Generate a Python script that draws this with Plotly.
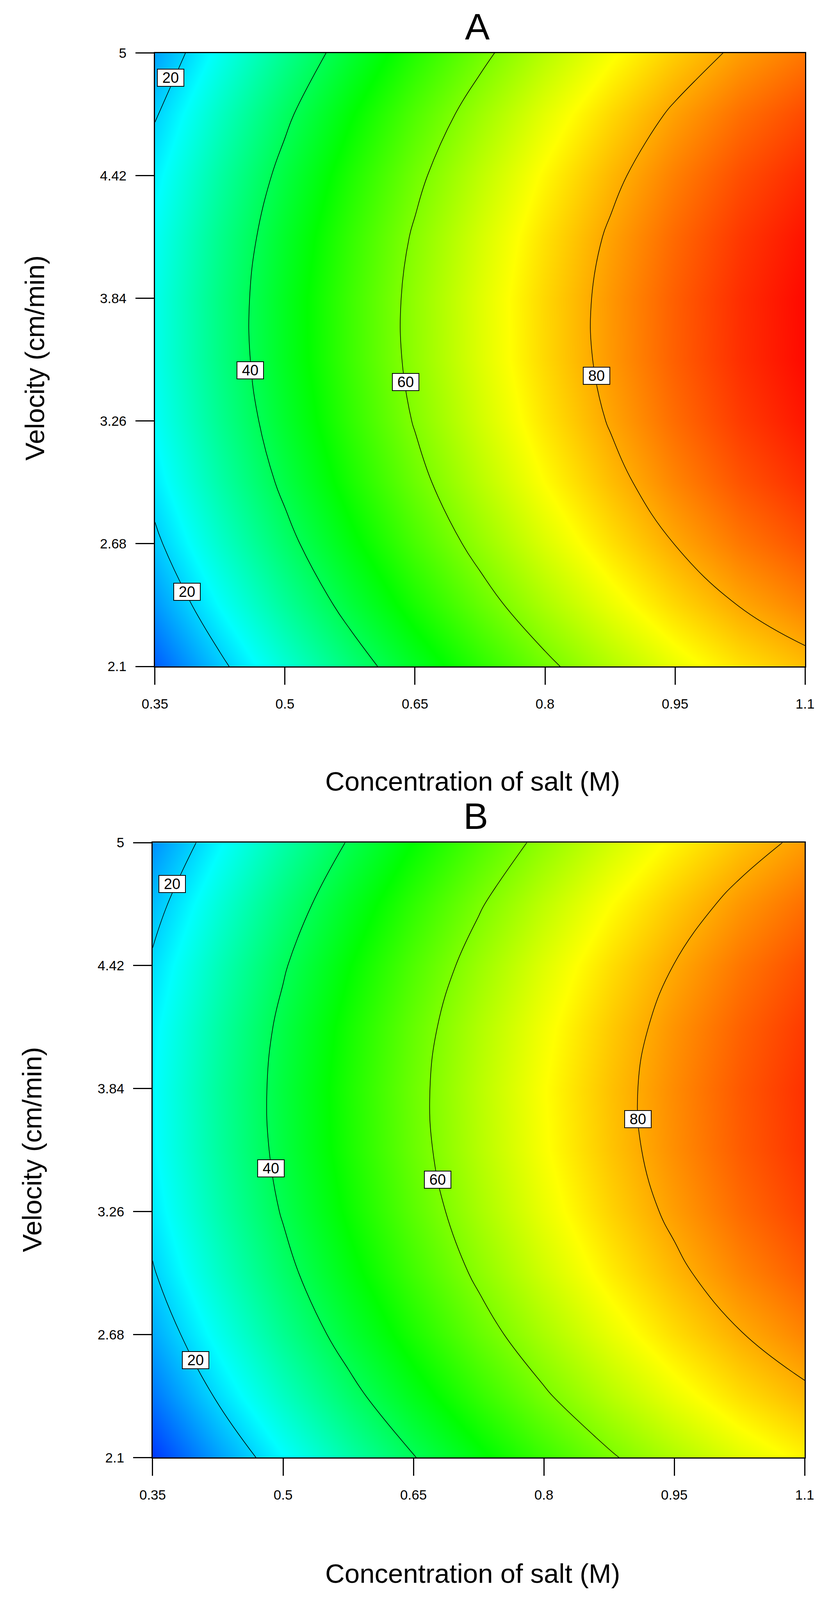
import plotly.graph_objects as go

# ---------------- data ----------------
salt = [0.35, 0.425, 0.5, 0.575, 0.65, 0.725, 0.8, 0.875, 0.95, 1.025, 1.1]
velocity = [2.1, 2.39, 2.68, 2.97, 3.26, 3.55, 3.84, 4.13, 4.42, 4.71, 5.0]

# response, rows = velocity, columns = salt
z_A = [
    [8.7, 18.7, 27.9, 36.6, 44.6, 51.9, 58.6, 64.6, 70.0, 74.6, 78.1],
    [14.3, 24.3, 33.5, 42.2, 50.2, 57.5, 64.2, 70.2, 75.6, 80.2, 83.7],
    [18.8, 28.8, 38.0, 46.7, 54.7, 62.0, 68.7, 74.7, 80.1, 84.7, 88.2],
    [22.2, 32.2, 41.4, 50.1, 58.1, 65.4, 72.1, 78.1, 83.5, 88.1, 91.6],
    [24.5, 34.5, 43.7, 52.4, 60.4, 67.7, 74.4, 80.4, 85.8, 90.4, 93.9],
    [25.7, 35.7, 44.9, 53.6, 61.6, 68.9, 75.6, 81.6, 87.0, 91.6, 95.1],
    [25.8, 35.8, 45.0, 53.7, 61.7, 69.0, 75.7, 81.7, 87.1, 91.7, 95.2],
    [24.8, 34.8, 44.0, 52.7, 60.7, 68.0, 74.7, 80.7, 86.1, 90.7, 94.2],
    [22.7, 32.7, 41.9, 50.6, 58.6, 65.9, 72.6, 78.6, 84.0, 88.6, 92.1],
    [19.6, 29.6, 38.8, 47.5, 55.5, 62.8, 69.5, 75.5, 80.9, 85.5, 89.0],
    [15.3, 25.3, 34.5, 43.2, 51.2, 58.5, 65.2, 71.2, 76.6, 81.2, 84.7],
]
z_B = [
    [5.2, 14.8, 23.7, 32.0, 39.7, 46.8, 53.3, 59.2, 64.4, 69.1, 72.9],
    [11.1, 20.7, 29.6, 37.9, 45.6, 52.7, 59.2, 65.1, 70.3, 75.0, 78.8],
    [15.9, 25.4, 34.4, 42.7, 50.4, 57.5, 63.9, 69.8, 75.1, 79.7, 83.5],
    [19.5, 29.1, 38.0, 46.3, 54.0, 61.1, 67.6, 73.5, 78.7, 83.4, 87.2],
    [22.0, 31.6, 40.5, 48.8, 56.5, 63.6, 70.1, 76.0, 81.2, 85.9, 89.7],
    [23.4, 33.0, 41.9, 50.2, 57.9, 65.0, 71.5, 77.4, 82.6, 87.3, 91.1],
    [23.7, 33.3, 42.2, 50.5, 58.2, 65.3, 71.8, 77.7, 82.9, 87.6, 91.4],
    [22.9, 32.4, 41.4, 49.7, 57.4, 64.5, 70.9, 76.8, 82.1, 86.7, 90.5],
    [20.9, 30.5, 39.4, 47.7, 55.4, 62.5, 69.0, 74.9, 80.1, 84.8, 88.6],
    [17.8, 27.4, 36.3, 44.6, 52.3, 59.4, 65.9, 71.8, 77.0, 81.7, 85.5],
    [13.6, 23.2, 32.1, 40.4, 48.1, 55.2, 61.7, 67.6, 72.8, 77.5, 81.3],
]

x_ticks = [0.35, 0.5, 0.65, 0.8, 0.95, 1.1]
x_ticktext = ["0.35", "0.5", "0.65", "0.8", "0.95", "1.1"]
y_ticks = [2.1, 2.68, 3.26, 3.84, 4.42, 5.0]
y_ticktext = ["2.1", "2.68", "3.26", "3.84", "4.42", "5"]

# contour label positions (salt, velocity, text)
labels_A = [(0.368, 4.883, "20"), (0.387, 2.452, "20"), (0.460, 3.499, "40"),
            (0.639, 3.444, "60"), (0.8595, 3.473, "80")]
labels_B = [(0.3726, 4.805, "20"), (0.3995, 2.559, "20"), (0.486, 3.463, "40"),
            (0.678, 3.41, "60"), (0.908, 3.696, "80")]

levels = dict(start=20, end=80, size=20)
zmin, zmax = 0, 96
cscale = [[0.0, "rgb(0,0,255)"], [0.25, "rgb(0,255,255)"], [0.5, "rgb(0,255,0)"],
          [0.75, "rgb(255,255,0)"], [1.0, "rgb(255,0,0)"]]

FONT = "Liberation Sans, Arial, sans-serif"
W = 2126
H = 4096          # usable browser viewport height
HR = 4425         # reference height used for relative placement
K = H / HR


def fy(py):
    """reference pixel row -> paper fraction"""
    return 1 - py / HR


fig = go.Figure()
for z, xa, ya in [(z_A, "x", "y"), (z_B, "x2", "y2")]:
    fig.add_trace(go.Heatmap(x=salt, y=velocity, z=z, colorscale=cscale, zmin=zmin, zmax=zmax,
                             zsmooth="best", showscale=False, xaxis=xa, yaxis=ya, hoverinfo="skip"))
    fig.add_trace(go.Contour(x=salt, y=velocity, z=z, contours=dict(coloring="none", **levels),
                             line=dict(color="black", width=1.6, smoothing=1.2), showscale=False,
                             xaxis=xa, yaxis=ya, hoverinfo="skip"))

axis_common = dict(showgrid=False, zeroline=False, showline=True, linecolor="black", linewidth=2.5,
                   mirror=True, ticks="outside", tickwidth=2.5, tickcolor="black",
                   tickfont=dict(family=FONT, size=35, color="black"))

fig.update_layout(
    width=W, height=H, margin=dict(l=0, r=0, t=0, b=0),
    paper_bgcolor="white", plot_bgcolor="white", showlegend=False,
    xaxis=dict(domain=[373 / W, 2085 / W], range=[0.35, 1.1], tickvals=x_ticks, ticktext=x_ticktext,
               anchor="y", ticklen=round(47 * K), ticklabelstandoff=round(20 * K), **axis_common),
    yaxis=dict(domain=[fy(1839), fy(126)], range=[2.1, 5.0], tickvals=y_ticks, ticktext=y_ticktext,
               anchor="x", ticklen=47, ticklabelstandoff=16, **axis_common),
    xaxis2=dict(domain=[367 / W, 2084 / W], range=[0.35, 1.1], tickvals=x_ticks, ticktext=x_ticktext,
                anchor="y2", ticklen=round(47 * K), ticklabelstandoff=round(20 * K), **axis_common),
    yaxis2=dict(domain=[fy(4048), fy(2331)], range=[2.1, 5.0], tickvals=y_ticks, ticktext=y_ticktext,
                anchor="x2", ticklen=47, ticklabelstandoff=16, **axis_common),
)

ann = []
for labs, xr, yr in [(labels_A, "x", "y"), (labels_B, "x2", "y2")]:
    for lx, ly, t in labs:
        ann.append(dict(x=lx, y=ly, xref=xr, yref=yr, text=t, showarrow=False,
                        font=dict(family=FONT, size=38, color="black"),
                        bgcolor="white", bordercolor="black", borderwidth=2, borderpad=1,
                        width=64, height=40))


def txt(x, y, t, size, angle=0):
    return dict(x=x, y=y, xref="paper", yref="paper", text=t, showarrow=False, textangle=angle,
                xanchor="center", yanchor="middle", font=dict(family=FONT, size=size, color="black"))


ann += [
    txt(1222 / W, fy(52), "A", 95),
    txt(1218 / W, fy(2257), "B", 95),
    txt(1210 / W, fy(2160), "Concentration of salt (M)", 69),
    txt(1210 / W, fy(4372), "Concentration of salt (M)", 69),
    txt(57 / W, fy(978), "Velocity (cm/min)", 69, -90),
    txt(50 / W, fy(3188), "Velocity (cm/min)", 69, -90),
]
fig.update_layout(annotations=ann)

fig.write_html("out.html", post_script="document.body.style.margin='0';",
               config={"displayModeBar": False})
